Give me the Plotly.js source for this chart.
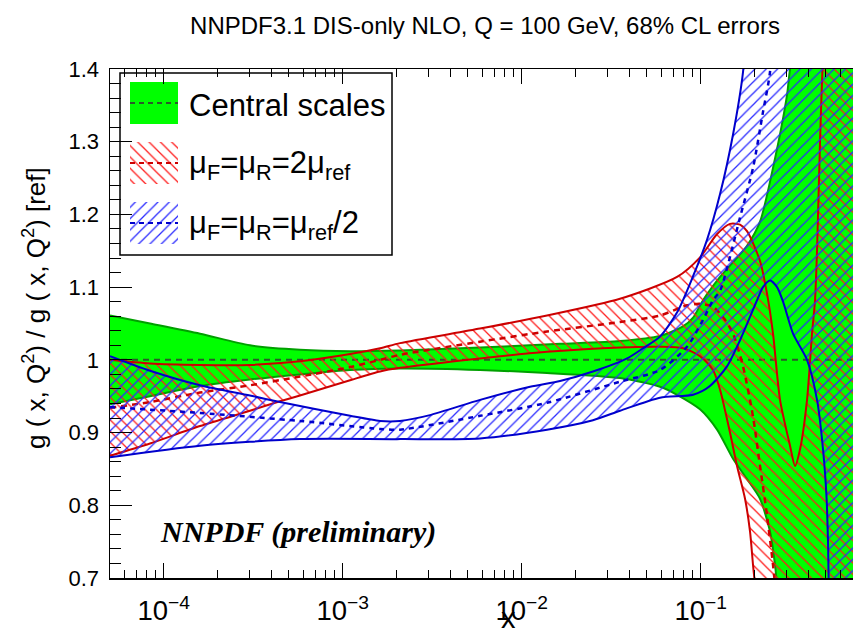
<!DOCTYPE html>
<html>
<head>
<meta charset="utf-8">
<script src="https://cdn.plot.ly/plotly-3.0.1.min.js"></script>
<style>html,body{margin:0;padding:0;background:#fff;}</style>
</head>
<body>
<div id="chart" style="width:853px;height:632px;"></div>
<script>
// ---------- Data (x is Bjorken x, y is ratio) ----------
// Central scales (green band)
const centralUpX = [5.01e-5, 8.38e-5, 1.595e-4, 3.03e-4, 5.77e-4, 1.099e-3, 2.09e-3, 5.85e-3, 0.01637, 0.0354, 0.0592, 0.0796, 0.0906, 0.1030, 0.1282, 0.1814, 0.2144, 0.2534, 0.3034, 0.3153, 0.40, 0.80];
const centralUpY = [1.061, 1.050, 1.036, 1.020, 1.014, 1.012, 1.013, 1.017, 1.022, 1.026, 1.033, 1.046, 1.058, 1.082, 1.114, 1.157, 1.190, 1.264, 1.364, 1.400, 1.55, 1.90];
const centralLoX = [5.01e-5, 8.38e-5, 1.595e-4, 3.03e-4, 5.77e-4, 1.099e-3, 2.09e-3, 5.85e-3, 0.01384, 0.0354, 0.0592, 0.0737, 0.0991, 0.1234, 0.1515, 0.1814, 0.2144, 0.2438, 0.2601, 0.2669, 0.30, 0.80];
const centralLoY = [0.939, 0.950, 0.964, 0.973, 0.980, 0.986, 0.988, 0.986, 0.982, 0.975, 0.963, 0.952, 0.932, 0.904, 0.864, 0.836, 0.809, 0.764, 0.718, 0.690, 0.55, 0.30];
const centralMidX = [5.01e-5, 1e-3, 0.1, 0.80];
const centralMidY = [1.0, 1.0, 1.0, 1.0];

// muF = muR = 2 mu_ref (red band)
const twoUpX = [5.01e-5, 8.38e-5, 1.595e-4, 3.03e-4, 5.77e-4, 1.099e-3, 1.616e-3, 2.09e-3, 5.85e-3, 0.01384, 0.0354, 0.0737, 0.0991, 0.1234, 0.1457, 0.1658, 0.1814, 0.2144, 0.2346, 0.2534, 0.2773, 0.3153, 0.3363, 0.3587, 0.3925, 0.4185, 0.4350, 0.4464, 0.4638, 0.4821, 0.55, 0.80];
const twoUpY = [1.000, 0.995, 0.993, 0.993, 0.998, 1.008, 1.016, 1.023, 1.043, 1.061, 1.084, 1.114, 1.141, 1.173, 1.187, 1.186, 1.177, 1.136, 1.091, 1.036, 0.945, 0.882, 0.854, 0.877, 0.945, 1.036, 1.082, 1.150, 1.300, 1.420, 1.70, 2.00];
const twoLoX = [5.01e-5, 8.38e-5, 1.595e-4, 3.03e-4, 4.46e-4, 5.77e-4, 1.099e-3, 1.616e-3, 2.09e-3, 5.85e-3, 0.01384, 0.0354, 0.0592, 0.0796, 0.0991, 0.1171, 0.1282, 0.1457, 0.1595, 0.1768, 0.1885, 0.1959, 0.2010, 0.23, 0.80];
const twoLoY = [0.868, 0.885, 0.909, 0.930, 0.943, 0.951, 0.972, 0.984, 0.989, 1.002, 1.011, 1.017, 1.018, 1.016, 1.005, 0.986, 0.959, 0.900, 0.854, 0.809, 0.764, 0.718, 0.690, 0.50, 0.30];
const twoMidX = [5.01e-5, 8.38e-5, 1.595e-4, 3.03e-4, 5.77e-4, 1.099e-3, 1.616e-3, 2.09e-3, 5.85e-3, 0.01384, 0.0354, 0.0592, 0.0838, 0.0991, 0.1171, 0.1367, 0.1515, 0.1723, 0.1959, 0.2144, 0.2346, 0.2534, 0.2601, 0.30];
const twoMidY = [0.934, 0.942, 0.955, 0.965, 0.977, 0.990, 1.000, 1.007, 1.025, 1.039, 1.052, 1.061, 1.075, 1.077, 1.073, 1.055, 1.036, 0.991, 0.922, 0.854, 0.786, 0.718, 0.690, 0.50];

// muF = muR = mu_ref / 2 (blue band)
const halfUpX = [5.01e-5, 8.38e-5, 1.595e-4, 3.03e-4, 4.46e-4, 1.099e-3, 1.616e-3, 2.09e-3, 3.07e-3, 5.85e-3, 0.01113, 0.01637, 0.0250, 0.0388, 0.0476, 0.0592, 0.0737, 0.0906, 0.1084, 0.1282, 0.1515, 0.1723, 0.19, 0.80];
const halfUpY = [1.005, 0.985, 0.965, 0.951, 0.942, 0.923, 0.916, 0.916, 0.924, 0.945, 0.963, 0.971, 0.984, 1.002, 1.016, 1.032, 1.065, 1.115, 1.165, 1.228, 1.310, 1.396, 1.55, 2.00];
const halfLoX = [5.01e-5, 1.595e-4, 5.77e-4, 2.09e-3, 5.85e-3, 0.01384, 0.0250, 0.0354, 0.0592, 0.0906, 0.1127, 0.1402, 0.1658, 0.1885, 0.2063, 0.2228, 0.2438, 0.2669, 0.2883, 0.3278, 0.3925, 0.4464, 0.4821, 0.505, 0.5141, 0.5277, 0.80];
const halfLoY = [0.866, 0.882, 0.891, 0.891, 0.892, 0.904, 0.917, 0.930, 0.948, 0.952, 0.964, 0.991, 1.027, 1.059, 1.082, 1.100, 1.109, 1.100, 1.080, 1.036, 1.000, 0.945, 0.877, 0.809, 0.750, 0.650, 0.30];
const halfMidX = [5.01e-5, 1.595e-4, 5.77e-4, 1.616e-3, 2.09e-3, 5.85e-3, 0.01384, 0.0354, 0.0592, 0.0838, 0.1030, 0.1171, 0.1282, 0.1658, 0.1959, 0.2228, 0.2438, 0.27];
const halfMidY = [0.935, 0.927, 0.916, 0.905, 0.904, 0.923, 0.941, 0.970, 0.986, 1.018, 1.055, 1.082, 1.095, 1.196, 1.264, 1.341, 1.396, 1.60];

// Labels
const chartTitle = "NNPDF3.1 DIS-only NLO, Q = 100 GeV, 68% CL errors";
const yTitle = "g ( x, Q<sup>2</sup>) / g ( x, Q<sup>2</sup>) [ref]";
const xTitle = "x";
const legendLabels = ["Central scales", "μ<sub>F</sub>=μ<sub>R</sub>=2μ<sub>ref</sub>", "μ<sub>F</sub>=μ<sub>R</sub>=μ<sub>ref</sub>/2"];
const watermark = "NNPDF (preliminary)";

// ---------- Styling ----------
const GREEN_FILL = "#00ff00", GREEN_LINE = "#00a000", GREEN_MID = "#2a5a2a";
const RED_LINE = "#cc0000", RED_HATCH = "#ff1a1a";
const BLUE_LINE = "#0000cc", BLUE_HATCH = "#2a2aff";
const FONT = "Liberation Sans, Arial, sans-serif";
const SMOOTH = 0.7;

function edge(x, y, color, width, extra) {
  return Object.assign({ type: "scatter", mode: "lines", x: x, y: y,
    line: { color: color, width: width, shape: "spline", smoothing: SMOOTH },
    hoverinfo: "skip", showlegend: false }, extra || {});
}
const hatch = (shape, color) => ({ shape: shape, fgcolor: color, bgcolor: "rgba(0,0,0,0)", size: 8, solidity: 0.16 });

const traces = [
  // green band: lower edge, then upper edge filled down to it
  edge(centralLoX, centralLoY, GREEN_LINE, 2),
  edge(centralUpX, centralUpY, GREEN_LINE, 2, { fill: "tonexty", fillcolor: GREEN_FILL }),
  edge(centralMidX, centralMidY, GREEN_MID, 2, { line: { color: GREEN_MID, width: 2, dash: "6px,5px" } }),
  // red band
  edge(twoLoX, twoLoY, RED_LINE, 2),
  edge(twoUpX, twoUpY, RED_LINE, 2, { fill: "tonexty", fillcolor: "rgba(0,0,0,0)", fillpattern: hatch("\\", RED_HATCH) }),
  edge(twoMidX, twoMidY, RED_LINE, 2.5, { line: { color: RED_LINE, width: 2.5, dash: "6px,5px", shape: "spline", smoothing: SMOOTH } }),
  // blue band
  edge(halfLoX, halfLoY, BLUE_LINE, 2),
  edge(halfUpX, halfUpY, BLUE_LINE, 2, { fill: "tonexty", fillcolor: "rgba(0,0,0,0)", fillpattern: hatch("/", BLUE_HATCH) }),
  edge(halfMidX, halfMidY, BLUE_LINE, 2.5, { line: { color: BLUE_LINE, width: 2.5, dash: "5px,5px", shape: "spline", smoothing: SMOOTH } })
];

// ---------- Legend, drawn on an overlay axis measured in pixels ----------
const LEG = { x0: 120, y0: 73, x1: 392, y1: 255, swX0: 130, swX1: 178, rows: [103, 163, 223], half: 21, textX: 187 };
const legendStyles = [
  { fillcolor: GREEN_FILL, mid: GREEN_MID },
  { fillcolor: "rgba(0,0,0,0)", fillpattern: hatch("\\", RED_HATCH), mid: RED_LINE },
  { fillcolor: "rgba(0,0,0,0)", fillpattern: hatch("/", BLUE_HATCH), mid: BLUE_LINE }
];
LEG.rows.forEach((cy, i) => {
  const s = legendStyles[i];
  const t = { type: "scatter", mode: "lines", xaxis: "x2", yaxis: "y2", fill: "toself",
    x: [LEG.swX0, LEG.swX1, LEG.swX1, LEG.swX0, LEG.swX0],
    y: [cy - LEG.half, cy - LEG.half, cy + LEG.half, cy + LEG.half, cy - LEG.half],
    line: { width: 0 }, fillcolor: s.fillcolor, hoverinfo: "skip", showlegend: false };
  if (s.fillpattern) t.fillpattern = s.fillpattern;
  traces.push(t);
  traces.push({ type: "scatter", mode: "lines", xaxis: "x2", yaxis: "y2", x: [LEG.swX0, LEG.swX1], y: [cy, cy],
    line: { color: s.mid, width: 2, dash: "5px,4px" }, hoverinfo: "skip", showlegend: false });
});

const PX = { l: 110, r: 853, t: 69, b: 578 };
const px2paperX = (p) => (p - PX.l) / (PX.r - PX.l);
const px2paperY = (p) => (PX.b - p) / (PX.b - PX.t);

const annotations = legendLabels.map((txt, i) => ({
  xref: "x2", yref: "y2", x: LEG.textX, y: LEG.rows[i] + 2, xanchor: "left", yanchor: "middle",
  text: txt, showarrow: false, font: { family: FONT, size: 31, color: "#000" }
}));
annotations.push({
  xref: "paper", yref: "paper", x: px2paperX(298), y: px2paperY(532), xanchor: "center", yanchor: "middle",
  text: "<b><i>" + watermark + "</i></b>", showarrow: false,
  font: { family: "Liberation Serif, Times New Roman, serif", size: 30, color: "#000" }
});
annotations.push({
  xref: "paper", yref: "paper", x: px2paperX(34), y: px2paperY(308), xanchor: "center", yanchor: "middle",
  text: yTitle, textangle: -90, showarrow: false, font: { family: FONT, size: 26, color: "#000" }
});
annotations.push({
  xref: "paper", yref: "paper", x: px2paperX(508), y: px2paperY(618), xanchor: "center", yanchor: "middle",
  text: xTitle, showarrow: false, font: { family: FONT, size: 29, color: "#000" }
});

const layout = {
  width: 853, height: 632,
  margin: { l: PX.l, r: 853 - PX.r, t: PX.t, b: 632 - PX.b, pad: 0 },
  paper_bgcolor: "#fff", plot_bgcolor: "#fff",
  font: { family: FONT, color: "#000" },
  title: { text: chartTitle, xref: "container", x: 485 / 853, xanchor: "center", yref: "container", y: 1 - 26 / 632, yanchor: "middle",
    font: { family: FONT, size: 24, color: "#000" } },
  xaxis: {
    type: "log", range: [Math.log10(5.01e-5), Math.log10(0.709)], autorange: false,
    dtick: 1, exponentformat: "power", showgrid: false, zeroline: false,
    showline: true, linecolor: "#000", linewidth: 1.5, mirror: "ticks",
    ticks: "inside", ticklen: 15, tickwidth: 1, tickcolor: "#000",
    minor: { dtick: "D1", ticks: "inside", ticklen: 8, tickwidth: 1, tickcolor: "#000", showgrid: false },
    tickfont: { family: FONT, size: 22, color: "#000" }, ticklabelstandoff: 9
  },
  yaxis: {
    range: [0.7, 1.4], autorange: false, tick0: 0.7, dtick: 0.1, showgrid: false, zeroline: false,
    showline: true, linecolor: "#000", linewidth: 1.5, mirror: false,
    ticks: "inside", ticklen: 22, tickwidth: 1, tickcolor: "#000",
    minor: { tick0: 0.7, dtick: 0.02, ticks: "inside", ticklen: 11, tickwidth: 1, tickcolor: "#000", showgrid: false },
    tickfont: { family: FONT, size: 22, color: "#000" }, ticklabelstandoff: 5
  },
  xaxis2: { overlaying: "x", anchor: "y2", range: [PX.l, PX.r], autorange: false, visible: false, showgrid: false, zeroline: false },
  yaxis2: { overlaying: "y", anchor: "x2", range: [PX.b, PX.t], autorange: false, visible: false, showgrid: false, zeroline: false },
  shapes: [{ type: "rect", xref: "x2", yref: "y2", x0: LEG.x0, y0: LEG.y0, x1: LEG.x1, y1: LEG.y1,
    line: { color: "#000", width: 1.5 }, fillcolor: "rgba(0,0,0,0)", layer: "above" }],
  annotations: annotations,
  showlegend: false
};

Plotly.newPlot("chart", traces, layout, { staticPlot: true, displayModeBar: false });
</script>
</body>
</html>
